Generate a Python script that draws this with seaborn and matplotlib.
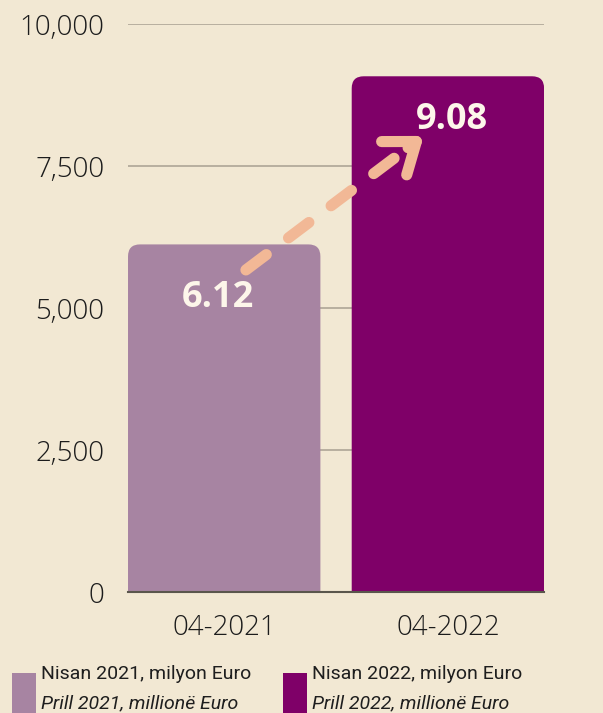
import matplotlib
matplotlib.use("Agg")
import matplotlib.pyplot as plt
from matplotlib.patches import FancyBboxPatch, Rectangle
from matplotlib.ticker import FuncFormatter
import seaborn as sns
import pandas as pd

# dados
periodos = ["04-2021", "04-2022"]
valores = [6120, 9080]
rotulos = ["6.12", "9.08"]
cores = ["#a784a2", "#7f0068"]
legenda_tr = ["Nisan 2021, milyon Euro", "Nisan 2022, milyon Euro"]
legenda_sq = ["Prill 2021, millionë Euro", "Prill 2022, millionë Euro"]

fundo = "#f2e8d3"
sns.set_theme(style="white")
plt.rcParams["font.family"] = ["Open Sans", "DejaVu Sans"]

df = pd.DataFrame({"periodo": periodos, "valor": valores})

fig = plt.figure(figsize=(6.03, 7.13), dpi=100, facecolor=fundo)
ax = fig.add_axes([0.2123, 0.1697, 0.690, 0.7966])
ax.set_facecolor(fundo)

sns.barplot(data=df, x="periodo", y="valor", hue="periodo", palette=cores,
            width=0.86, legend=False, ax=ax, saturation=1)

ax.set_xlim(-0.43, 1.43)
ax.set_ylim(0, 10000)
ax.set_yticks([0, 2500, 5000, 7500, 10000])
ax.yaxis.set_major_formatter(FuncFormatter(lambda v, p: f"{int(v):,}"))
ax.grid(axis="y", color="#b3ab9b", lw=1.3)
ax.set_axisbelow(True)
for s in ["left", "right", "top"]:
    ax.spines[s].set_visible(False)
ax.spines["bottom"].set_color("#5a564c")
ax.spines["bottom"].set_linewidth(1.5)
ax.spines["bottom"].set_zorder(5)
ax.tick_params(axis="both", length=0, labelsize=20, colors="#1c1c1c")
ax.tick_params(axis="y", pad=17)
ax.tick_params(axis="x", pad=16)
for t in ax.get_xticklabels() + ax.get_yticklabels():
    t.set_fontweight("light")
ax.set_xlabel("")
ax.set_ylabel("")

# barras com cantos arredondados
fig.canvas.draw()
px_x = ax.transData.transform((1, 0))[0] - ax.transData.transform((0, 0))[0]
px_y = ax.transData.transform((0, 1))[1] - ax.transData.transform((0, 0))[1]
raio = 12 / px_x
for patch in list(ax.patches):
    x0, w, h = patch.get_x(), patch.get_width(), patch.get_height()
    cor = patch.get_facecolor()
    patch.set_visible(False)
    fb = FancyBboxPatch((x0, -600), w, h + 600,
                        boxstyle=f"round,pad=0,rounding_size={raio}",
                        mutation_aspect=px_x / px_y,
                        fc=cor, ec="none", zorder=3)
    ax.add_patch(fb)

# rótulos
desloc = [(-0.03, -54), (0.02, -44)]
for i, (v, r) in enumerate(zip(valores, rotulos)):
    ax.annotate(r, (i + desloc[i][0], v), xytext=(0, desloc[i][1] * 0.72),
                textcoords="offset points", ha="center", va="center",
                fontsize=26, fontweight="bold", color="#fdf6ea", zorder=6)

# seta tracejada
ini = (0.097, 5670)
fim = (0.892, 8030)
seta = "#f2b896"
incl = (fim[1] - ini[1]) / (fim[0] - ini[0])
ax.plot([ini[0], fim[0] - 0.08], [ini[1], fim[1] - 0.08 * incl],
        color=seta, lw=8, dashes=(2.3, 2.5), dash_capstyle="round", zorder=6)
ax.annotate("", xy=fim, xytext=(fim[0] - 0.07, fim[1] - 0.07 * incl),
            arrowprops=dict(arrowstyle="->,head_length=1.0,head_width=0.75", color=seta,
                            lw=8, shrinkA=0, shrinkB=0, capstyle="round",
                            joinstyle="round", mutation_scale=20), zorder=6)

# legenda
pos_x = [12, 283]
fam = ["Roboto", "DejaVu Sans"]
for i in range(2):
    fig.patches.append(Rectangle((pos_x[i] / 603, 0), 24 / 603, 40 / 713,
                                 transform=fig.transFigure, fc=cores[i], ec="none"))
    fig.text((pos_x[i] + 29) / 603, 1 - 674 / 713, legenda_tr[i], fontsize=14,
             family=fam, color="#1e1e1e", va="center")
    fig.text((pos_x[i] + 29) / 603, 1 - 703 / 713, legenda_sq[i], fontsize=14, style="italic",
             family=fam, color="#1e1e1e", va="center")

fig.savefig("out.png", dpi=100, facecolor=fundo)
